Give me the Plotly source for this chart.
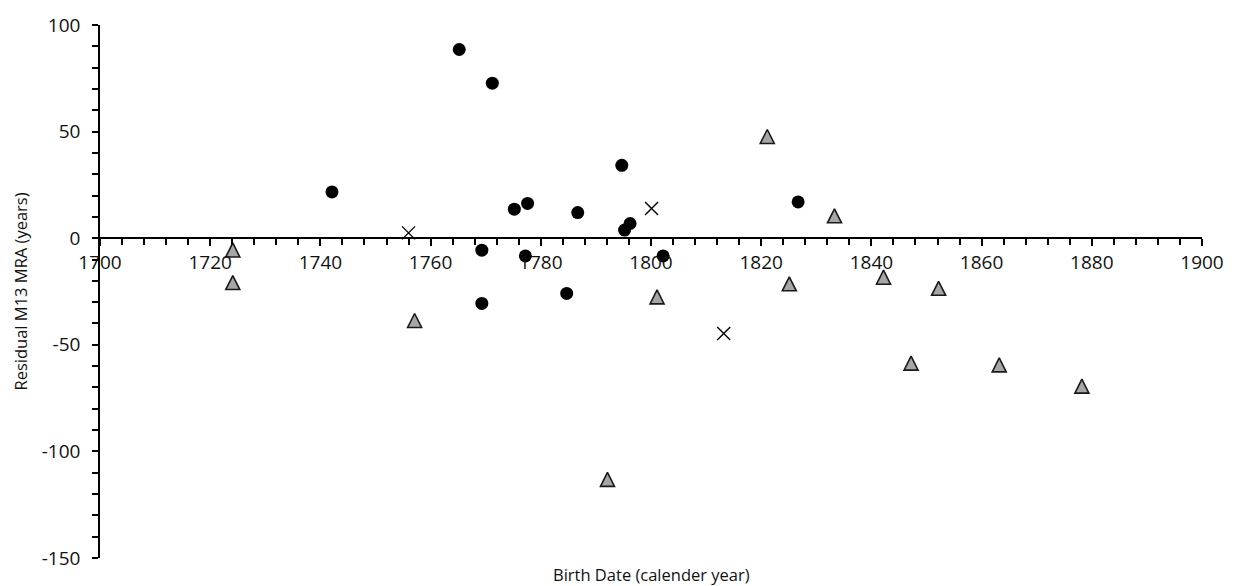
import plotly.graph_objects as go

# ---- data ----
circle_x = [1742.1, 1765.2, 1771.2, 1775.2, 1777.6, 1786.7, 1794.7, 1795.2, 1796.2,
            1826.7, 1769.3, 1769.3, 1777.2, 1784.7, 1802.2]
circle_y = [21.7, 88.5, 72.7, 13.6, 16.3, 12.0, 34.2, 3.8, 6.9,
            17.0, -5.6, -30.6, -8.3, -25.9, -8.3]

triangle_x = [1724.1, 1724.1, 1757.1, 1792.1, 1801.1, 1821.1, 1825.1, 1833.3,
              1842.2, 1847.2, 1852.2, 1863.2, 1878.2]
triangle_y = [-5.5, -20.8, -38.6, -113.1, -27.5, 47.7, -21.4, 10.5,
              -18.3, -58.6, -23.5, -59.4, -69.4]

cross_x = [1756.0, 1800.1, 1813.2]
cross_y = [2.5, 13.9, -44.7]

x_range = [1700, 1900]
y_range = [-150, 100]
y_tick_values = [-150, -100, -50, 0, 50, 100]
y_tick_labels = ["-150", "-100", "-50", "0", "50", "100"]
x_title = "Birth Date (calender year)"
y_title = "Residual M13 MRA (years)"

FONT = "Open Sans"
TXT = "#111111"

fig = go.Figure()

fig.add_trace(go.Scatter(
    x=triangle_x, y=triangle_y, mode="markers",
    marker=dict(symbol="arrow-down", angle=180, standoff=7, size=14,
                color="#a6a6a6", line=dict(color="#1a1a1a", width=1.6)),
    hoverinfo="skip"))

fig.add_trace(go.Scatter(
    x=circle_x, y=circle_y, mode="markers",
    marker=dict(symbol="circle", size=13, color="#000000",
                line=dict(width=0)),
    hoverinfo="skip"))

fig.add_trace(go.Scatter(
    x=cross_x, y=cross_y, mode="markers",
    marker=dict(symbol="x-thin", size=13,
                line=dict(color="#000000", width=1.4)),
    hoverinfo="skip"))

# x axis crosses the y axis at y = 0
x_pos = (0 - y_range[0]) / (y_range[1] - y_range[0])

fig.update_layout(
    width=1236, height=586,
    margin=dict(l=100, r=31, t=25, b=28),
    paper_bgcolor="white", plot_bgcolor="white",
    showlegend=False,
    font=dict(family=FONT, color=TXT, size=19),
    xaxis=dict(
        range=x_range, dtick=20, tick0=1700,
        showgrid=False, zeroline=False,
        showline=True, linecolor="#000000", linewidth=1.5,
        ticks="outside", ticklen=7, tickwidth=1.5, tickcolor="#000000",
        minor=dict(dtick=4, ticks="outside", ticklen=6, tickwidth=1.5,
                   tickcolor="#000000", showgrid=False),
        anchor="free", position=x_pos, side="bottom",
        tickfont=dict(family=FONT, size=19, color=TXT),
    ),
    yaxis=dict(
        range=y_range, tickmode="array",
        tickvals=y_tick_values, ticktext=y_tick_labels,
        showgrid=False, zeroline=False,
        showline=True, linecolor="#000000", linewidth=1.5,
        ticks="outside", ticklen=6, tickwidth=1.5, tickcolor="#000000",
        minor=dict(dtick=10, tick0=0, ticks="outside", ticklen=6, tickwidth=1.5,
                   tickcolor="#000000", showgrid=False),
        ticklabelstandoff=8,
        tickfont=dict(family=FONT, size=19, color=TXT),
    ),
    annotations=[
        dict(text=x_title, xref="paper", yref="paper", x=0.5, y=0,
             xanchor="center", yanchor="top", yshift=-3, showarrow=False,
             font=dict(family=FONT, size=16.5, color=TXT)),
        dict(text=y_title, xref="paper", yref="paper", x=0, y=0.5,
             xanchor="center", yanchor="middle", xshift=-80, textangle=-90,
             showarrow=False, font=dict(family=FONT, size=16.5, color=TXT)),
    ],
)

fig.write_html("out.html", config={"displayModeBar": False},
               post_script="document.body.style.margin='0';document.body.style.overflow='hidden';")
